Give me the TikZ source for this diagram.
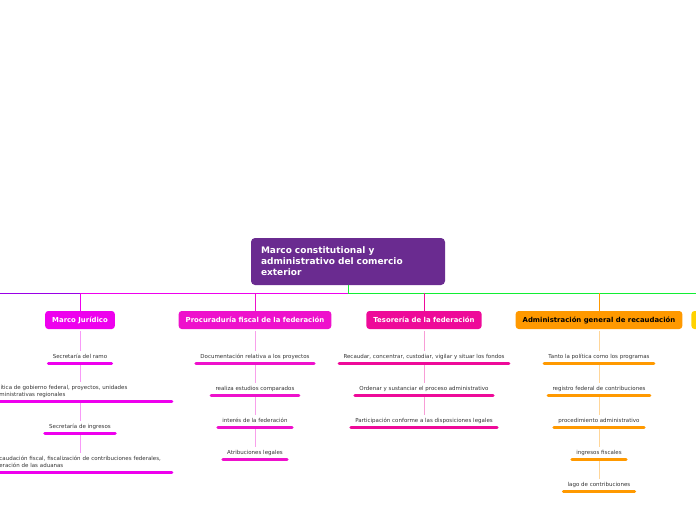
\documentclass[tikz,border=0pt]{standalone}
\usepackage{fontspec}
\setmainfont{DejaVu Sans}
\usetikzlibrary{positioning,calc}
\definecolor{centro}{HTML}{6A2B90}
\definecolor{jur}{HTML}{EE00EE}
\definecolor{proc}{HTML}{EE11CC}
\definecolor{teso}{HTML}{EE0A99}
\definecolor{admon}{HTML}{FF9900}
\definecolor{amar}{HTML}{FFD200}
\definecolor{verde}{HTML}{11EE33}
\definecolor{violeta}{HTML}{9A00E6}
\definecolor{texto}{HTML}{333333}
\tikzset{
  rama/.style={fill=#1, rounded corners=3pt, minimum height=18pt, inner xsep=7pt,
    font=\fontsize{6.9}{8}\selectfont\bfseries, text=white},
  hoja/.style={anchor=south, inner xsep=4pt, inner ysep=3pt, text depth=1.2pt,
    font=\fontsize{5.5}{6.5}\selectfont, text=texto},
  doble/.style={text width=175pt, align=left, text depth=7.7pt},
  barra/.style={draw=#1, line width=3pt, line cap=round},
  enlace/.style={draw=#1!40, line width=0.8pt},
}

\begin{document}
\begin{tikzpicture}[x=1pt, y=-1pt, line width=0.9pt]
    \useasboundingbox (0,0) rectangle (696,520);

    % nodo central
    \node[fill=centro, rounded corners=4pt, text=white, align=left, text width=174pt,
      inner xsep=10pt, minimum height=47pt, font=\fontsize{9}{11}\selectfont\bfseries]
      (centro) at (348,261.5) {Marco constitutional y\\administrativo del comercio\\exterior};

    % tronco horizontal
    \coordinate (tronco) at (348,293);
    \coordinate (izq) at (0,293);
    \coordinate (der) at (696,293);

    % ramas
    \node[rama=jur] (mj) at (80,320) {Marco Jurídico};
    \node[rama=proc] (pf) at (255,320) {Procuraduría fiscal de la federación};
    \node[rama=teso] (tf) at (424,320) {Tesorería de la federación};
    \node[rama=admon, text=black] (ag) at (599,320) {Administración general de recaudación};
    \node[rama=amar, minimum width=60pt, anchor=west] (otra) at (691,320) {};

    \draw[verde] (centro.south) -- (tronco);
    \draw[verde] (tronco) -- (der);
    \draw[jur] (tronco) -- (tronco -| mj);
    \draw[violeta] (tronco -| mj) -- (izq);
    \draw[jur] (tronco -| mj) -- (mj.north);
    \draw[proc] (tronco -| pf) -- (pf.north);
    \draw[teso] (tronco -| tf) -- (tf.north);
    \draw[admon] (tronco -| ag) -- (ag.north);

    % Marco Jurídico
    \node[hoja] (mja) at (80,363) {Secretaría del ramo};
    \node[hoja, doble] (mjb) at (80,401)
      {Política de gobierno federal, proyectos, unidades\\administrativas regionales};
    \node[hoja] (mjc) at (80,433) {Secretaría de ingresos};
    \node[hoja, doble] (mjd) at (80,472)
      {Recaudación fiscal, fiscalización de contribuciones federales,\\operación de las aduanas};

    % Procuraduría fiscal
    \node[hoja] (pfa) at (255,363) {Documentación relativa a los proyectos};
    \node[hoja] (pfb) at (255,395) {realiza estudios comparados};
    \node[hoja] (pfc) at (255,427) {interés de la federación};
    \node[hoja] (pfd) at (255,459) {Atribuciones legales};

    % Tesorería
    \node[hoja] (tfa) at (424,363) {Recaudar, concentrar, custodiar, vigilar y situar los fondos};
    \node[hoja] (tfb) at (424,395) {Ordenar y sustanciar el proceso administrativo};
    \node[hoja] (tfc) at (424,427) {Participación conforme a las disposiciones legales};

    % Administración general
    \node[hoja] (aga) at (599,363) {Tanto la política como los programas};
    \node[hoja] (agb) at (599,395) {registro federal de contribuciones};
    \node[hoja] (agc) at (599,427) {procedimiento administrativo};
    \node[hoja] (agd) at (599,459) {ingresos fiscales};
    \node[hoja] (age) at (599,491) {lago de contribuciones};

    % enlaces verticales
    \foreach \a/\b in {mj/mja,mja/mjb,mjb/mjc,mjc/mjd}
      \draw[enlace=jur, shorten <=2pt] (\a.south) -- (\b.north);
    \foreach \a/\b in {pf/pfa,pfa/pfb,pfb/pfc,pfc/pfd}
      \draw[enlace=proc, shorten <=2pt] (\a.south) -- (\b.north);
    \foreach \a/\b in {tf/tfa,tfa/tfb,tfb/tfc}
      \draw[enlace=teso, shorten <=2pt] (\a.south) -- (\b.north);
    \foreach \a/\b in {ag/aga,aga/agb,agb/agc,agc/agd,agd/age}
      \draw[enlace=admon, shorten <=2pt] (\a.south) -- (\b.north);

    % barras
    \foreach \n in {mja,mjb,mjc,mjd}
      \draw[barra=jur] (\n.south west) -- (\n.south east);
    \foreach \n in {pfa,pfb,pfc,pfd}
      \draw[barra=proc] (\n.south west) -- (\n.south east);
    \foreach \n in {tfa,tfb,tfc}
      \draw[barra=teso] (\n.south west) -- (\n.south east);
    \foreach \n in {aga,agb,agc,agd,age}
      \draw[barra=admon] (\n.south west) -- (\n.south east);
\end{tikzpicture}
\end{document}
